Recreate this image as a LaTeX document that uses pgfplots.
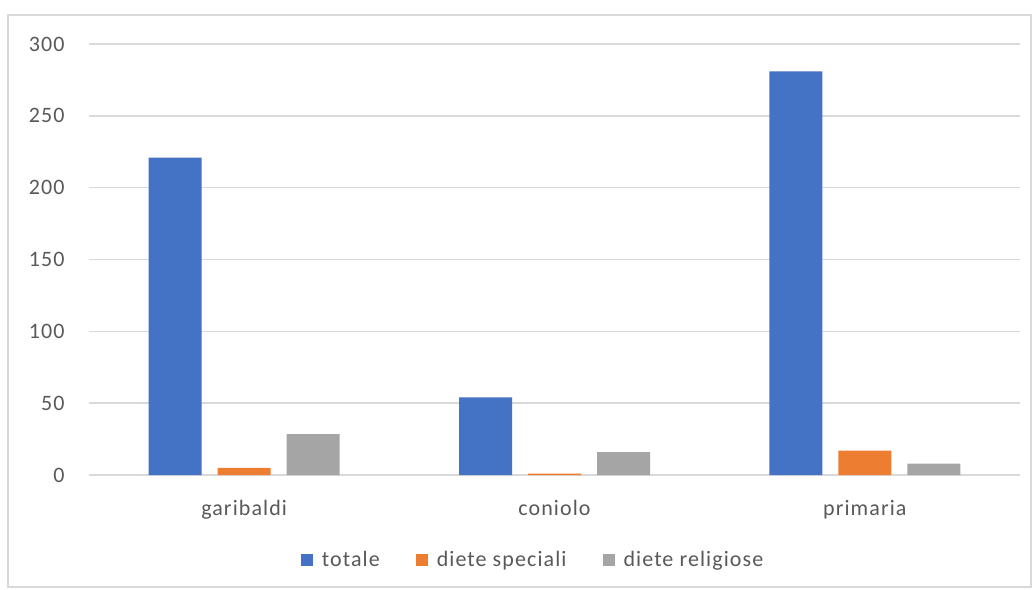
\documentclass[border=0pt]{standalone}
\usepackage{pgfplots}
\pgfplotsset{compat=1.18}
\usepackage{fontspec}
\setmainfont{Carlito}[LetterSpace=5]
\definecolor{cBlue}{HTML}{4472C4}
\definecolor{cOrange}{HTML}{ED7D31}
\definecolor{cGray}{HTML}{A5A5A5}
\definecolor{txt}{HTML}{595959}
\definecolor{gridc}{HTML}{D9D9D9}
\begin{document}
\begin{tikzpicture}[x=1pt,y=1pt]
\fill[white] (0,0) rectangle (1035,-589);
\draw[gridc, line width=2pt] (8,-15) rectangle (1031,-587);
\begin{axis}[
  at={(89pt,-475pt)}, anchor=south west,
  width=931pt, height=431pt, scale only axis,
  xmin=-0.5, xmax=2.5, ymin=0, ymax=300,
  axis line style={draw=none},
  ytick={0,50,...,300},
  xtick={0,1,2}, xticklabels={garibaldi,coniolo,primaria},
  ymajorgrids, grid style={gridc, line width=1.5pt},
  major tick length=0pt,
  ticklabel style={font=\fontsize{22}{26}\selectfont, text=txt},
  /pgf/number format/assume math mode=true,
  yticklabel style={xshift=-21pt},
  xticklabel style={yshift=-22pt},
  ybar, bar width=53pt,
  legend style={at={(0.477,-0.197)}, anchor=center, draw=none,
    font=\fontsize{22}{26}\selectfont, text=txt, legend columns=3,
    /tikz/every even column/.append style={column sep=34pt}},
  legend image code/.code={\fill[#1] (0pt,-6pt) rectangle (12pt,6pt); \path (19pt,0pt);},
]
\addplot+[bar shift=-69pt, fill=cBlue, draw=none] coordinates {(0,221) (1,54) (2,281)};
\addplot+[bar shift=0pt, fill=cOrange, draw=none] coordinates {(0,5) (1,1) (2,17)};
\addplot+[bar shift=69pt, fill=cGray, draw=none] coordinates {(0,28.5) (1,16) (2,8)};
\legend{totale, diete speciali, diete religiose}
\end{axis}
\end{tikzpicture}
\end{document}
